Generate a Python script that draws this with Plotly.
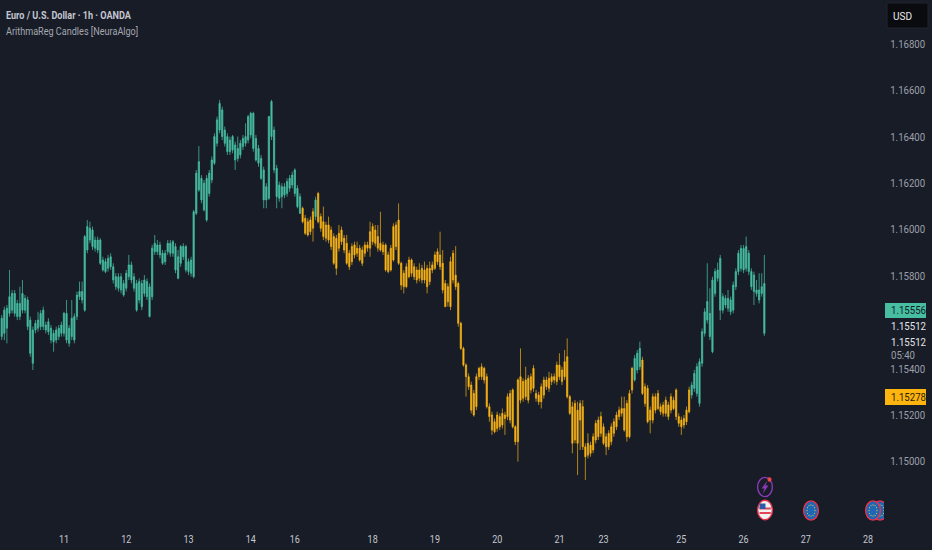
import plotly.graph_objects as go

TITLE = "Euro / U.S. Dollar · 1h · OANDA"
INDICATOR = "ArithmaReg Candles [NeuraAlgo]"
tick_days = ["11", "12", "13", "14", "16", "18", "19", "20", "21", "23", "25", "26", "27", "28"]
tick_bars = [24, 48, 72, 96, 113, 143, 167, 191, 215, 232, 262, 286, 310, 334]
price_ticks = [1.148, 1.15, 1.152, 1.154, 1.158, 1.16, 1.162, 1.164, 1.166, 1.168]

body_top = [
1.15618,1.15653,1.15661,1.15711,1.15725,1.15725,1.15682,1.15682,1.15725,1.15704,
1.15697,1.15610,1.15567,1.15596,1.15610,1.15639,1.15653,1.15589,1.15603,1.15575,
1.15553,1.15567,1.15575,1.15589,1.15639,1.15639,1.15575,1.15618,1.15625,1.15718,
1.15733,1.15733,1.15970,1.16013,1.16006,1.15998,1.15955,1.15955,1.15955,1.15869,
1.15862,1.15876,1.15883,1.15840,1.15797,1.15797,1.15797,1.15768,1.15812,1.15848,
1.15848,1.15797,1.15768,1.15776,1.15768,1.15783,1.15776,1.15754,1.15920,1.15941,
1.15934,1.15934,1.15898,1.15898,1.15941,1.15941,1.15948,1.15927,1.15883,1.15927,
1.15927,1.15927,1.15862,1.15869,1.16077,1.16243,1.16293,1.16221,1.16200,1.16221,
1.16243,1.16300,1.16401,1.16473,1.16544,1.16516,1.16429,1.16401,1.16386,1.16401,
1.16365,1.16350,1.16372,1.16393,1.16401,1.16487,1.16501,1.16501,1.16393,1.16350,
1.16307,1.16257,1.16185,1.16487,1.16552,1.16429,1.16264,1.16192,1.16185,1.16185,
1.16207,1.16221,1.16235,1.16257,1.16178,1.16142,1.16092,1.16049,1.16034,1.16041,
1.16077,1.16128,1.16156,1.16056,1.16034,1.16020,1.16020,1.15998,1.15970,1.15963,
1.15984,1.15998,1.15963,1.15941,1.15898,1.15927,1.15934,1.15920,1.15920,1.15912,
1.15934,1.15934,1.15991,1.16013,1.15998,1.15970,1.15941,1.15934,1.15934,1.15891,
1.15920,1.16013,1.16020,1.16041,1.15855,1.15812,1.15840,1.15869,1.15869,1.15840,
1.15826,1.15826,1.15833,1.15826,1.15833,1.15833,1.15848,1.15891,1.15905,1.15891,
1.15855,1.15768,1.15754,1.15862,1.15898,1.15804,1.15768,1.15596,1.15488,1.15416,
1.15366,1.15330,1.15294,1.15366,1.15402,1.15409,1.15402,1.15366,1.15237,1.15201,
1.15172,1.15201,1.15194,1.15208,1.15201,1.15280,1.15294,1.15309,1.15150,1.15352,
1.15366,1.15345,1.15352,1.15359,1.15366,1.15402,1.15294,1.15287,1.15323,1.15352,
1.15352,1.15359,1.15366,1.15366,1.15416,1.15416,1.15395,1.15431,1.15452,1.15280,
1.15237,1.15251,1.15222,1.15251,1.15237,1.15064,1.15079,1.15071,1.15107,1.15165,
1.15179,1.15194,1.15150,1.15107,1.15122,1.15150,1.15172,1.15201,1.15222,1.15229,
1.15229,1.15251,1.15294,1.15402,1.15445,1.15467,1.15488,1.15438,1.15323,1.15316,
1.15222,1.15280,1.15280,1.15294,1.15237,1.15244,1.15265,1.15244,1.15280,1.15265,
1.15309,1.15194,1.15179,1.15186,1.15222,1.15309,1.15330,1.15380,1.15409,1.15431,
1.15560,1.15646,1.15690,1.15639,1.15783,1.15819,1.15826,1.15876,1.15711,1.15704,
1.15704,1.15697,1.15761,1.15819,1.15898,1.15919,1.15919,1.15927,1.15898,1.15819,
1.15804,1.15740,1.15740,1.15754,1.15768]

body_bottom = [
1.15539,1.15553,1.15575,1.15639,1.15653,1.15639,1.15625,1.15625,1.15653,1.15653,
1.15582,1.15467,1.15424,1.15567,1.15575,1.15582,1.15582,1.15567,1.15560,1.15524,
1.15517,1.15524,1.15539,1.15553,1.15553,1.15524,1.15510,1.15539,1.15524,1.15625,
1.15711,1.15697,1.15653,1.15912,1.15955,1.15927,1.15920,1.15912,1.15855,1.15826,
1.15819,1.15833,1.15840,1.15783,1.15754,1.15747,1.15740,1.15718,1.15747,1.15797,
1.15783,1.15747,1.15653,1.15697,1.15668,1.15725,1.15711,1.15625,1.15711,1.15905,
1.15905,1.15891,1.15855,1.15862,1.15905,1.15898,1.15898,1.15826,1.15790,1.15855,
1.15883,1.15826,1.15819,1.15812,1.15797,1.16070,1.16171,1.16128,1.16085,1.16041,
1.16156,1.16214,1.16286,1.16372,1.16429,1.16401,1.16372,1.16336,1.16336,1.16343,
1.16300,1.16307,1.16322,1.16358,1.16372,1.16386,1.16408,1.16350,1.16300,1.16286,
1.16221,1.16128,1.16128,1.16135,1.16401,1.16257,1.16142,1.16135,1.16142,1.16149,
1.16156,1.16178,1.16192,1.16156,1.16099,1.16070,1.16034,1.15984,1.15977,1.15991,
1.16006,1.16056,1.16034,1.16006,1.15970,1.15963,1.15955,1.15927,1.15855,1.15833,
1.15920,1.15948,1.15912,1.15855,1.15840,1.15862,1.15891,1.15898,1.15869,1.15855,
1.15898,1.15920,1.15920,1.15948,1.15941,1.15920,1.15912,1.15905,1.15826,1.15819,
1.15826,1.15869,1.15927,1.15855,1.15761,1.15754,1.15754,1.15797,1.15812,1.15797,
1.15783,1.15790,1.15783,1.15783,1.15754,1.15776,1.15826,1.15833,1.15862,1.15840,
1.15740,1.15668,1.15689,1.15668,1.15783,1.15754,1.15596,1.15488,1.15416,1.15366,
1.15323,1.15222,1.15201,1.15237,1.15366,1.15366,1.15352,1.15237,1.15194,1.15136,
1.15129,1.15143,1.15150,1.15158,1.15186,1.15194,1.15179,1.15150,1.15086,1.15086,
1.15265,1.15273,1.15280,1.15265,1.15309,1.15316,1.15273,1.15258,1.15258,1.15287,
1.15323,1.15316,1.15345,1.15352,1.15345,1.15366,1.15345,1.15366,1.15280,1.15208,
1.15079,1.15093,1.15079,1.15179,1.15064,1.15021,1.15028,1.15036,1.15050,1.15093,
1.15107,1.15122,1.15079,1.15064,1.15064,1.15086,1.15122,1.15150,1.15194,1.15208,
1.15136,1.15107,1.15107,1.15309,1.15352,1.15395,1.15409,1.15294,1.15251,1.15172,
1.15179,1.15179,1.15222,1.15229,1.15215,1.15208,1.15208,1.15194,1.15222,1.15229,
1.15194,1.15165,1.15150,1.15158,1.15172,1.15215,1.15287,1.15316,1.15294,1.15251,
1.15424,1.15553,1.15610,1.15539,1.15474,1.15725,1.15790,1.15653,1.15653,1.15675,
1.15661,1.15646,1.15653,1.15754,1.15819,1.15833,1.15826,1.15833,1.15819,1.15754,
1.15733,1.15725,1.15697,1.15725,1.15553]

wick_high = [
1.15632,1.15668,1.15675,1.15826,1.15740,1.15740,1.15697,1.15754,1.15783,1.15718,
1.15711,1.15625,1.15582,1.15610,1.15646,1.15653,1.15668,1.15603,1.15618,1.15589,
1.15567,1.15582,1.15589,1.15603,1.15646,1.15697,1.15589,1.15697,1.15639,1.15733,
1.15776,1.15776,1.15977,1.16041,1.16034,1.16013,1.15970,1.15970,1.15963,1.15883,
1.15876,1.15891,1.15898,1.15855,1.15812,1.15812,1.15812,1.15783,1.15826,1.15891,
1.15862,1.15812,1.15783,1.15790,1.15783,1.15804,1.15790,1.15768,1.15934,1.15977,
1.15955,1.15948,1.15912,1.15912,1.15955,1.15955,1.15955,1.15941,1.15912,1.15934,
1.15941,1.15934,1.15876,1.15883,1.16085,1.16257,1.16360,1.16235,1.16214,1.16235,
1.16257,1.16315,1.16415,1.16487,1.16559,1.16530,1.16444,1.16415,1.16401,1.16408,
1.16379,1.16401,1.16386,1.16408,1.16458,1.16494,1.16508,1.16508,1.16408,1.16365,
1.16322,1.16271,1.16200,1.16490,1.16559,1.16444,1.16279,1.16207,1.16200,1.16200,
1.16221,1.16235,1.16250,1.16264,1.16192,1.16156,1.16099,1.16063,1.16049,1.16056,
1.16092,1.16142,1.16163,1.16070,1.16099,1.16034,1.16056,1.16013,1.15984,1.15977,
1.16020,1.16013,1.15977,1.15977,1.15912,1.15941,1.15948,1.15948,1.15934,1.15927,
1.15948,1.15948,1.16034,1.16027,1.16020,1.16020,1.16077,1.15948,1.15941,1.15905,
1.15934,1.16027,1.16034,1.16113,1.15862,1.15826,1.15855,1.15883,1.15876,1.15855,
1.15840,1.15855,1.15848,1.15862,1.15848,1.15862,1.15862,1.15905,1.15919,1.15991,
1.15912,1.15783,1.15768,1.15883,1.15912,1.15929,1.15776,1.15603,1.15495,1.15424,
1.15380,1.15345,1.15309,1.15380,1.15409,1.15424,1.15409,1.15380,1.15251,1.15215,
1.15186,1.15215,1.15208,1.15229,1.15215,1.15294,1.15309,1.15316,1.15157,1.15359,
1.15488,1.15359,1.15409,1.15373,1.15380,1.15416,1.15309,1.15301,1.15337,1.15366,
1.15366,1.15387,1.15380,1.15380,1.15431,1.15467,1.15409,1.15481,1.15531,1.15287,
1.15258,1.15265,1.15258,1.15265,1.15265,1.15079,1.15122,1.15086,1.15122,1.15179,
1.15194,1.15215,1.15165,1.15122,1.15136,1.15165,1.15186,1.15215,1.15237,1.15280,
1.15280,1.15265,1.15309,1.15409,1.15459,1.15481,1.15517,1.15452,1.15337,1.15330,
1.15237,1.15294,1.15294,1.15309,1.15251,1.15258,1.15280,1.15258,1.15294,1.15280,
1.15316,1.15208,1.15194,1.15201,1.15237,1.15323,1.15344,1.15395,1.15424,1.15445,
1.15574,1.15661,1.15855,1.15747,1.15797,1.15833,1.15858,1.15891,1.15725,1.15718,
1.15740,1.15711,1.15776,1.15833,1.15912,1.15934,1.15934,1.15970,1.15912,1.15833,
1.15819,1.15783,1.15812,1.15812,1.15891]

wick_low = [
1.15524,1.15524,1.15510,1.15625,1.15639,1.15625,1.15610,1.15610,1.15639,1.15639,
1.15567,1.15452,1.15395,1.15553,1.15560,1.15567,1.15567,1.15553,1.15546,1.15510,
1.15474,1.15510,1.15524,1.15539,1.15539,1.15510,1.15495,1.15524,1.15510,1.15610,
1.15697,1.15682,1.15646,1.15898,1.15941,1.15912,1.15905,1.15898,1.15848,1.15819,
1.15812,1.15819,1.15826,1.15768,1.15740,1.15733,1.15725,1.15711,1.15733,1.15783,
1.15768,1.15733,1.15646,1.15682,1.15653,1.15711,1.15697,1.15622,1.15697,1.15891,
1.15891,1.15876,1.15848,1.15848,1.15891,1.15883,1.15883,1.15812,1.15786,1.15840,
1.15869,1.15815,1.15804,1.15797,1.15790,1.16063,1.16163,1.16113,1.16078,1.16034,
1.16142,1.16200,1.16279,1.16358,1.16415,1.16386,1.16358,1.16322,1.16322,1.16329,
1.16257,1.16293,1.16307,1.16343,1.16358,1.16372,1.16394,1.16336,1.16293,1.16271,
1.16214,1.16092,1.16092,1.16128,1.16386,1.16243,1.16092,1.16120,1.16092,1.16135,
1.16142,1.16163,1.16178,1.16142,1.16092,1.16067,1.16027,1.15977,1.15970,1.15977,
1.15948,1.16041,1.16027,1.15991,1.15955,1.15948,1.15941,1.15912,1.15848,1.15804,
1.15905,1.15934,1.15898,1.15848,1.15826,1.15848,1.15876,1.15883,1.15862,1.15843,
1.15883,1.15905,1.15883,1.15934,1.15927,1.15905,1.15905,1.15891,1.15819,1.15812,
1.15819,1.15862,1.15912,1.15848,1.15740,1.15725,1.15747,1.15790,1.15797,1.15783,
1.15768,1.15776,1.15768,1.15768,1.15725,1.15761,1.15812,1.15826,1.15848,1.15826,
1.15725,1.15668,1.15668,1.15653,1.15768,1.15740,1.15582,1.15481,1.15409,1.15280,
1.15309,1.15208,1.15194,1.15222,1.15352,1.15352,1.15337,1.15229,1.15172,1.15115,
1.15122,1.15129,1.15136,1.15143,1.15115,1.15179,1.15165,1.15143,1.15071,1.15000,
1.15251,1.15258,1.15265,1.15251,1.15294,1.15301,1.15258,1.15244,1.15229,1.15272,
1.15309,1.15301,1.15330,1.15337,1.15330,1.15352,1.15330,1.15352,1.15272,1.15201,
1.15036,1.15079,1.14942,1.15050,1.15050,1.14921,1.15014,1.15021,1.15036,1.15079,
1.15093,1.15107,1.15071,1.15028,1.15050,1.15071,1.15107,1.15136,1.15179,1.15194,
1.15129,1.15086,1.15100,1.15294,1.15345,1.15380,1.15395,1.15287,1.15237,1.15165,
1.15122,1.15165,1.15208,1.15222,1.15201,1.15194,1.15194,1.15179,1.15208,1.15222,
1.15179,1.15150,1.15115,1.15143,1.15158,1.15208,1.15272,1.15301,1.15280,1.15237,
1.15409,1.15539,1.15596,1.15524,1.15467,1.15711,1.15776,1.15610,1.15639,1.15661,
1.15646,1.15632,1.15639,1.15740,1.15804,1.15819,1.15812,1.15819,1.15804,1.15740,
1.15675,1.15711,1.15682,1.15711,1.15542]

trend = ["up"] * 116 + ["down"] * 5 + ["up"] + ["down"] * 122 + ["up"] * 3 + ["down"] * 19 + ["up"] * 29

TEAL = "#47bda2"
AMBER = "#fbb515"
BG = "#181c27"
W, H = 932, 550
PLOT_R = 886
PLOT_B = 525
Y_TOP = 1.168 + 44 * 0.0000431
Y_BOT = 1.168 - (PLOT_B - 44) * 0.0000431
X_LEFT = -0.66
X_RIGHT = (PLOT_R - 1.7) / 2.594
FONT = "Roboto"


def px(x):
    return x / PLOT_R


def py(y):
    return 1 - y / PLOT_B


def subset(kind):
    idx = [i for i, t in enumerate(trend) if t == kind]
    return (idx, [body_bottom[i] for i in idx], [wick_high[i] for i in idx],
            [wick_low[i] for i in idx], [body_top[i] for i in idx])


fig = go.Figure()
for kind, color, wick in [("up", TEAL, "rgba(71,189,162,0.75)"), ("down", AMBER, "rgba(251,181,21,0.68)")]:
    xs, o, h, l, c = subset(kind)
    fig.add_trace(go.Candlestick(
        x=xs, open=o, high=h, low=l, close=c, whiskerwidth=0, showlegend=False, hoverinfo="skip",
        increasing=dict(line=dict(color=wick, width=1), fillcolor=color),
        decreasing=dict(line=dict(color=wick, width=1), fillcolor=color),
    ))

shapes = []


def rect(x0, y0, x1, y1, fill, line=None, layer="above"):
    shapes.append(dict(type="rect", xref="paper", yref="paper", x0=px(x0), x1=px(x1), y0=py(y0), y1=py(y1),
                       fillcolor=fill, line=dict(color=line or fill, width=1 if line else 0), layer=layer))


def ellipse(cx, cy, rx, ry, fill, line=None, lw=1.5):
    shapes.append(dict(type="circle", xref="paper", yref="paper", x0=px(cx - rx), x1=px(cx + rx), y0=py(cy + ry),
                       y1=py(cy - ry), fillcolor=fill, line=dict(color=line or fill, width=lw if line else 0)))


def path(points, fill):
    d = "M " + " L ".join(f"{px(a):.5f},{py(b):.5f}" for a, b in points) + " Z"
    shapes.append(dict(type="path", xref="paper", yref="paper", path=d, fillcolor=fill, line=dict(width=0)))


def euro(cx, cy):
    ellipse(cx, cy, 7.4, 9.6, "#1f66b5", "#e8334a", 1.4)
    ring = [(0, -5.6), (2, -4.9), (3.5, -2.8), (4, 0), (3.5, 2.8), (2, 4.9), (0, 5.6), (-2, 4.9), (-3.5, 2.8), (-4, 0), (-3.5, -2.8), (-2, -4.9)]
    for dx, dy in ring:
        ellipse(cx + dx, cy + dy, 0.55, 0.65, "#d9c84a")


rect(887, 3, 928, 28, "#0a0b0e", "#22252e")
euro(880, 510.5)
euro(873, 510.5)
rect(884, 495, 932, 525, BG)
euro(811, 510.5)

ellipse(765, 510, 7.4, 9.8, "#f2f2f2", "#e8334a", 1.4)
rect(759.5, 507.5, 770.8, 509.5, "#e0455a")
rect(759.5, 512, 770.8, 514, "#e0455a")
rect(759.5, 503.5, 765.5, 509, "#2d5aa8")

ellipse(765, 487, 7.4, 9.6, BG, "#8a38b8", 1.4)
path([(767.5, 480.5), (761.5, 488.5), (764.5, 488.5), (762.5, 494), (768.5, 485.5), (765.5, 485.5)], "#8a38b8")
ellipse(769.5, 479.5, 2, 2.3, "#f04848")

rect(885, 303, 926, 318, TEAL)
rect(885, 389, 926, 405, "#fdb40e")

ann = []


def label(x, y, text, color, size=11, family=FONT):
    ann.append(dict(xref="paper", yref="paper", x=px(x), y=py(y), text=text, showarrow=False, xanchor="left",
                    yanchor="middle", font=dict(family=family, size=size, color=color)))


label(4, 15.5, "<b>" + TITLE + "</b>", "#c3c6cf", 11.5)
label(4, 31, INDICATOR, "#a4a7b0", 11.5)
label(891, 16, "USD", "#e6e8ec", 11.5)
label(889, 310, "1.15556", "#10231f")
label(889, 326, "1.15512", "#e2e4ea")
label(889, 342, "1.15512", "#e2e4ea")
label(889, 355.5, "05:40", "#9da0aa")
label(889, 397, "1.15278", "#2a2006")

fig.update_layout(
    width=W, height=H, paper_bgcolor=BG, plot_bgcolor=BG,
    margin=dict(l=0, r=W - PLOT_R, t=0, b=H - PLOT_B),
    shapes=shapes, annotations=ann, showlegend=False,
    xaxis=dict(range=[X_LEFT, X_RIGHT], tickmode="array", tickvals=tick_bars, ticktext=tick_days,
               rangeslider=dict(visible=False), showgrid=False, zeroline=False, showline=False,
               ticks="outside", ticklen=3, tickcolor=BG,
               tickfont=dict(family=FONT, size=11.5, color="#c5c8d0")),
    yaxis=dict(range=[Y_BOT, Y_TOP], side="right", tickmode="array", tickvals=price_ticks,
               ticktext=[f"{p:.5f}" for p in price_ticks], showgrid=False, zeroline=False, showline=False,
               ticks="outside", ticklen=1, tickcolor=BG,
               tickfont=dict(family=FONT, size=11, color="#9da0aa")),
)

# The reference's type is narrower than any installed face: squeeze the real text horizontally.
# Annotation text is centred on its x, so it is moved left to keep its left edge in place.
SQUEEZE = """
function squeeze(t, k, keepLeft) {
  var L = t.getComputedTextLength();
  t.setAttribute('textLength', (L * k).toFixed(2));
  t.setAttribute('lengthAdjust', 'spacingAndGlyphs');
  if (keepLeft) {
    t.setAttribute('x', parseFloat(t.getAttribute('x') || 0) - L * (1 - k) / 2);
  }
}
document.querySelectorAll('.xtick text').forEach(function (t) { squeeze(t, 0.78, false); });
document.querySelectorAll('.ytick text').forEach(function (t) { squeeze(t, 0.875, false); });
document.querySelectorAll('.annotation-text').forEach(function (t) {
  squeeze(t, t.textContent.length > 12 ? 0.79 : 0.875, true);
});
document.body.style.margin = '0';
document.body.style.background = '%s';
""" % BG

fig.write_html("out.html", config={"displayModeBar": False}, post_script=SQUEEZE)
